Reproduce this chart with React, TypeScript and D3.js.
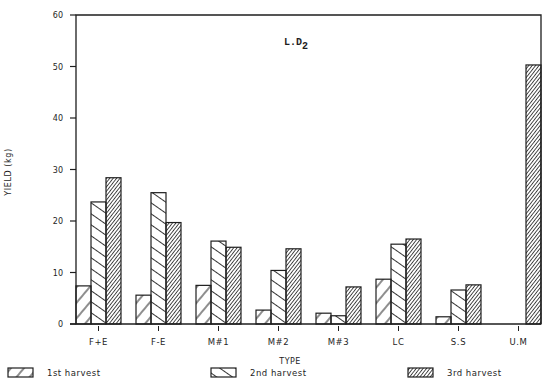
import React from "react";
import * as d3 from "d3";

const types = ["F+E", "F-E", "M#1", "M#2", "M#3", "LC", "S.S", "U.M"];
const harvest1 = [7.4, 5.6, 7.5, 2.7, 2.1, 8.7, 1.4, 0];
const harvest2 = [23.7, 25.5, 16.1, 10.4, 1.6, 15.5, 6.6, 0];
const harvest3 = [28.4, 19.7, 14.9, 14.6, 7.2, 16.5, 7.6, 50.3];
const seriesNames = ["1st harvest", "2nd harvest", "3rd harvest"];
const yTicks = [0, 10, 20, 30, 40, 50, 60];

const ink = "#1e1e1e";
const font = "'DejaVu Sans', sans-serif";

const App = () => {
  const width = 550,
    height = 387;
  const left = 76,
    right = 541,
    top = 15,
    bottom = 324;

  const x = d3.scaleBand().domain(types).range([left, right]).paddingInner(0.25).paddingOuter(0);
  const xSub = d3.scaleBand().domain(["0", "1", "2"]).range([0, x.bandwidth()]);
  const y = d3.scaleLinear().domain([0, 60]).range([bottom, top]);

  const series = [harvest1, harvest2, harvest3];
  const patIds = ["p1", "p2", "p3"];
  const legendX = [8, 211, 408];

  return (
    <svg width={width} height={height} style={{ position: "absolute", left: 0, top: 0, background: "#fff" }}>
      <defs>
        <pattern id="p1" patternUnits="userSpaceOnUse" width="10" height="10" patternTransform="rotate(-50)">
          <line x1="0" y1="5" x2="10" y2="5" stroke={ink} strokeWidth="1" />
        </pattern>
        <pattern id="p2" patternUnits="userSpaceOnUse" width="9" height="9" patternTransform="rotate(35)">
          <line x1="0" y1="4.5" x2="9" y2="4.5" stroke={ink} strokeWidth="0.9" />
        </pattern>
        <pattern id="p3" patternUnits="userSpaceOnUse" width="2.7" height="2.7" patternTransform="rotate(-52)">
          <line x1="0" y1="1.35" x2="2.7" y2="1.35" stroke={ink} strokeWidth="0.8" />
        </pattern>
      </defs>

      {/* bars */}
      {types.map((t, i) => (
        <g key={t} transform={`translate(${x(t)},0)`}>
          {series.map((s, k) =>
            s[i] > 0 ? (
              <rect
                key={k}
                x={xSub(String(k))}
                y={y(s[i])}
                width={xSub.bandwidth()}
                height={bottom - y(s[i])}
                fill={`url(#${patIds[k]})`}
                stroke={ink}
                strokeWidth={1.2}
              />
            ) : null
          )}
        </g>
      ))}

      {/* frame */}
      <path
        d={`M${left},${bottom}V${top}H${right}V${bottom}`}
        fill="none"
        stroke={ink}
        strokeWidth={1.3}
      />
      <line x1={70} x2={right} y1={bottom} y2={bottom} stroke={ink} strokeWidth={1.5} />

      {/* y axis */}
      {yTicks.map((v) => (
        <g key={v}>
          <line x1={70} x2={left} y1={y(v)} y2={y(v)} stroke={ink} strokeWidth={1.2} />
          <text x={63} y={y(v) + 3} textAnchor="end" fontSize={8} fontFamily={font} fill={ink}>
            {v}
          </text>
        </g>
      ))}
      <text
        transform={`translate(11,172) rotate(-90)`}
        textAnchor="middle"
        fontSize={8}
        fontFamily={font}
        fill={ink}
        letterSpacing={0.6}
      >
        YIELD (kg)
      </text>

      {/* x axis */}
      {types.map((t) => {
        const cx = (x(t) as number) + x.bandwidth() / 2;
        return (
          <g key={t}>
            <line x1={cx} x2={cx} y1={bottom + 2} y2={bottom + 7} stroke={ink} strokeWidth={1} />
            <text x={cx} y={345} textAnchor="middle" fontSize={8.5} fontFamily={font} fill={ink} letterSpacing={0.6}>
              {t}
            </text>
          </g>
        );
      })}
      <text x={290} y={364} textAnchor="middle" fontSize={8} fontFamily={font} fill={ink} letterSpacing={0.4}>
        TYPE
      </text>

      {/* panel label */}
      <text x={284} y={45} fontSize={10} fontFamily="'Liberation Mono', monospace" fontWeight="bold" fill={ink}>
        L.D
        <tspan dy={4} fontSize={10}>
          2
        </tspan>
      </text>

      {/* legend */}
      {seriesNames.map((n, k) => (
        <g key={n}>
          <rect
            x={legendX[k]}
            y={368}
            width={25}
            height={9}
            fill={`url(#${patIds[k]})`}
            stroke={ink}
            strokeWidth={1.2}
          />
          <text x={legendX[k] + 39} y={376} fontSize={8.5} fontFamily={font} fill={ink} letterSpacing={0.5}>
            {n}
          </text>
        </g>
      ))}
    </svg>
  );
};

export default App;
